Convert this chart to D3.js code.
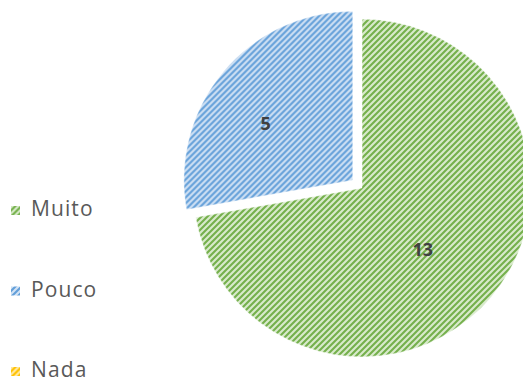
<!DOCTYPE html>
<html>
<head>
<meta charset="utf-8">
<script src="https://cdn.jsdelivr.net/npm/d3@7/dist/d3.min.js"></script>
<style>
  html, body { margin: 0; padding: 0; background: #ffffff; }
  svg { display: block; }
</style>
</head>
<body>
<div id="chart"></div>
<script>
// Answers and their counts
const categories = ["Muito", "Pouco", "Nada"];
const values = [13, 5, 0];
const fillColors = ["#d8eacb", "#d2e2f4", "#ffe9a6"];
const stripeColors = ["#74b04b", "#629fd9", "#ffc000"];

const width = 523, height = 381;
const cx = 362, cy = 188, radius = 169;
const explodeOffset = 12;      // distance the "Pouco" slice is pulled out
const explodedCategory = "Pouco";
// where each value label sits: fraction of the radius, and fraction of the slice's sweep
const labelRadiusFactor = { Muito: 0.51, Pouco: 0.615, Nada: 0.56 };
const labelSweepFactor = { Muito: 0.52, Pouco: 0.43, Nada: 0.5 };

const svg = d3.select("#chart").append("svg")
  .attr("width", width).attr("height", height);

const defs = svg.append("defs");

// Diagonal hatch pattern per category
categories.forEach((c, i) => {
  const p = defs.append("pattern")
    .attr("id", "hatch-" + i)
    .attr("patternUnits", "userSpaceOnUse")
    .attr("width", 6).attr("height", 6);
  p.append("rect").attr("width", 6).attr("height", 6).attr("fill", fillColors[i]);
  p.append("path")
    .attr("d", "M-1.5,1.5 L1.5,-1.5 M0,6 L6,0 M4.5,7.5 L7.5,4.5")
    .attr("stroke", stripeColors[i])
    .attr("stroke-width", 2.1)
    .attr("fill", "none");
});

// Feathered slice edges
const soft = defs.append("filter").attr("id", "soft")
  .attr("x", "-5%").attr("y", "-5%").attr("width", "110%").attr("height", "110%");
soft.append("feGaussianBlur").attr("in", "SourceAlpha").attr("stdDeviation", 1.6).attr("result", "b");
soft.append("feComponentTransfer").attr("in", "b").attr("result", "m")
  .append("feFuncA").attr("type", "linear").attr("slope", 1.6).attr("intercept", -0.3);
soft.append("feComposite").attr("in", "SourceGraphic").attr("in2", "m").attr("operator", "in");

const data = categories.map((c, i) => ({ category: c, value: values[i], index: i }));

const pie = d3.pie().sort(null).value(d => d.value).startAngle(0).endAngle(2 * Math.PI);
const arcs = pie(data).filter(d => d.data.value > 0);

const arc = d3.arc().innerRadius(0).outerRadius(radius);
const labelPos = d => {
  const r = radius * labelRadiusFactor[d.data.category];
  const a = d.startAngle + (d.endAngle - d.startAngle) * labelSweepFactor[d.data.category];
  return d3.arc().innerRadius(r).outerRadius(r).centroid({ startAngle: a, endAngle: a });
};

const g = svg.append("g").attr("transform", `translate(${cx},${cy})`);

const slice = g.selectAll("g.slice").data(arcs).enter().append("g")
  .attr("class", "slice")
  .attr("transform", d => {
    if (d.data.category !== explodedCategory) return null;
    const mid = (d.startAngle + d.endAngle) / 2;
    return `translate(${Math.sin(mid) * explodeOffset},${-Math.cos(mid) * explodeOffset})`;
  });

slice.append("path")
  .attr("d", arc)
  .attr("fill", d => `url(#hatch-${d.data.index})`)
  .attr("filter", "url(#soft)");

slice.append("text")
  .attr("transform", d => `translate(${labelPos(d)})`)
  .attr("text-anchor", "middle")
  .attr("dy", "0.36em")
  .attr("font-family", "'Open Sans', sans-serif")
  .attr("font-weight", "bold")
  .attr("font-size", 18)
  .attr("fill", "#404040")
  .text(d => d.data.value);

// Legend
const legendY = d3.scalePoint().domain(categories).range([210.5, 371.5]);
const legend = svg.append("g");
const item = legend.selectAll("g").data(data).enter().append("g")
  .attr("transform", d => `translate(11,${legendY(d.category)})`);

item.append("rect")
  .attr("x", 0).attr("y", -4.5)
  .attr("width", 9).attr("height", 9)
  .attr("fill", d => `url(#hatch-${d.index})`);

item.append("text")
  .attr("x", 20)
  .attr("dy", "0.27em")
  .attr("font-family", "'Open Sans', sans-serif")
  .attr("font-size", 21)
  .attr("letter-spacing", 1.1)
  .attr("fill", "#595959")
  .text(d => d.category);
</script>
</body>
</html>
